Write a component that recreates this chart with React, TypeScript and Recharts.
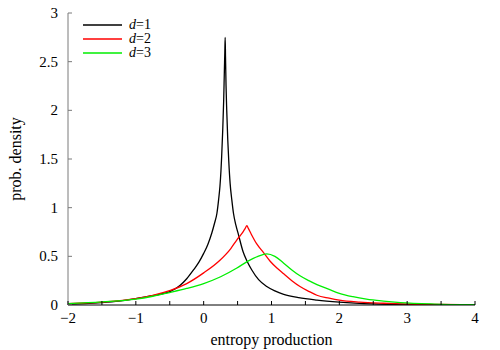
import React from 'react';
import { LineChart, Line, XAxis, YAxis, Legend } from 'recharts';

const d1X = [-2, -1.75, -1.5, -1.25, -1, -0.8, -0.65, -0.49, -0.35, -0.25, -0.15, -0.07, 0, 0.06, 0.12, 0.16, 0.195, 0.22, 0.24, 0.255, 0.265, 0.28, 0.295, 0.305, 0.312, 0.317, 0.322, 0.33, 0.34, 0.355, 0.37, 0.39, 0.415, 0.44, 0.475, 0.51, 0.58, 0.64, 0.71, 0.81, 0.93, 1.05, 1.18, 1.4, 1.67, 2.0, 2.5, 3, 3.5, 4];
const d1Y = [0.01, 0.015, 0.025, 0.04, 0.065, 0.09, 0.11, 0.14, 0.2, 0.27, 0.36, 0.44, 0.53, 0.62, 0.74, 0.84, 0.94, 1.08, 1.22, 1.38, 1.52, 1.78, 2.1, 2.4, 2.6, 2.75, 2.55, 2.25, 2.0, 1.7, 1.48, 1.25, 1.08, 0.94, 0.82, 0.73, 0.55, 0.45, 0.36, 0.26, 0.19, 0.145, 0.11, 0.075, 0.05, 0.03, 0.012, 0.005, 0.002, 0.001];

const d2X = [-2, -1.5, -1, -0.75, -0.49, -0.25, 0, 0.24, 0.4, 0.49, 0.57, 0.61, 0.637, 0.66, 0.7, 0.78, 0.88, 0.98, 1.08, 1.18, 1.3, 1.42, 1.55, 1.67, 1.85, 2.0, 2.3, 2.65, 3, 3.5, 4];
const d2Y = [0.015, 0.03, 0.065, 0.1, 0.15, 0.22, 0.33, 0.46, 0.58, 0.67, 0.74, 0.785, 0.815, 0.785, 0.73, 0.63, 0.54, 0.45, 0.38, 0.32, 0.25, 0.19, 0.14, 0.1, 0.07, 0.05, 0.03, 0.018, 0.01, 0.005, 0.002];

const d3X = [-2, -1.5, -1, -0.75, -0.49, -0.25, 0, 0.25, 0.49, 0.64, 0.8, 0.93, 1.05, 1.18, 1.3, 1.42, 1.55, 1.67, 1.85, 2.0, 2.2, 2.4, 2.65, 2.9, 3.4, 4];
const d3Y = [0.015, 0.033, 0.06, 0.09, 0.13, 0.17, 0.22, 0.29, 0.38, 0.445, 0.5, 0.525, 0.5, 0.43, 0.36, 0.3, 0.25, 0.21, 0.16, 0.12, 0.085, 0.06, 0.04, 0.025, 0.01, 0.003];

const xTicks = [-2, -1.5, -1, -0.5, 0, 0.5, 1, 1.5, 2, 2.5, 3, 3.5, 4];
const yTicks = [0, 0.5, 1, 1.5, 2, 2.5, 3];

const seriesNames = ['1', '2', '3'];
const seriesColors = ['#000000', '#ff0000', '#00ee00'];

const zip = (xs: number[], ys: number[]) => xs.map((x, i) => ({ x, y: ys[i] }));
const seriesData = [zip(d1X, d1Y), zip(d2X, d2Y), zip(d3X, d3Y)];

const FONT = '"Liberation Serif", serif';
const GRAY = '#7a7a7a';

const fmt = (v: number) => String(v).replace('-', '\u2212');

const BottomTick = (props: any) => {
  const { x, y, payload } = props;
  const major = Number.isInteger(payload.value);
  return (
    <g>
      <line x1={x} x2={x} y1={y} y2={y - 4} stroke="#000" strokeWidth={1} />
      {major && (
        <text x={x} y={y + 18} textAnchor="middle" fontSize={15} fontFamily={FONT} fill="#000">
          {fmt(payload.value)}
        </text>
      )}
    </g>
  );
};

const TopTick = (props: any) => {
  const { x, y } = props;
  return <line x1={x} x2={x} y1={y} y2={y + 4} stroke={GRAY} strokeWidth={1} />;
};

const LeftTick = (props: any) => {
  const { x, y, payload } = props;
  return (
    <g>
      <line x1={x} x2={x + 4} y1={y} y2={y} stroke={GRAY} strokeWidth={1} />
      <text x={x - 10} y={y + 5} textAnchor="end" fontSize={15} fontFamily={FONT} fill="#000">
        {fmt(payload.value)}
      </text>
    </g>
  );
};

const RightTick = (props: any) => {
  const { x, y } = props;
  return <line x1={x} x2={x - 4} y1={y} y2={y} stroke={GRAY} strokeWidth={1} />;
};

const YLabel = (props: any) => {
  const { viewBox } = props;
  const cy = viewBox.y + viewBox.height / 2;
  return (
    <text x={15} y={cy} transform={`rotate(-90 15 ${cy})`} textAnchor="middle" dominantBaseline="central" fontSize={16} fontFamily={FONT} fill="#000">
      prob. density
    </text>
  );
};

const LegendBox = () => (
  <div style={{ fontFamily: FONT, fontSize: 14, lineHeight: '14px' }}>
    {seriesNames.map((n, i) => (
      <div key={n} style={{ display: 'flex', alignItems: 'center', height: 14 }}>
        <svg width={39} height={4} style={{ marginRight: 7 }}>
          <line x1={0} x2={39} y1={2} y2={2} stroke={seriesColors[i]} strokeWidth={1.3} />
        </svg>
        <span><i>d</i>=<span>{n}</span></span>
      </div>
    ))}
  </div>
);

export default function App() {
  return (
    <div style={{ position: 'absolute', left: 0, top: 0, width: 500, height: 350, background: '#fff' }}>
      <LineChart width={500} height={350} margin={{ top: 13, right: 25, left: 0, bottom: 0 }}>
        <XAxis
          dataKey="x"
          type="number"
          domain={[-2, 4]}
          ticks={xTicks}
          interval={0}
          height={45}
          tickSize={0}
          tickMargin={0}
          tick={<BottomTick />}
          axisLine={{ stroke: '#000', strokeWidth: 1 }}
          allowDataOverflow
          label={{ value: 'entropy production', position: 'insideBottom', offset: 5, fontSize: 16, fontFamily: FONT, fill: '#000' }}
        />
        <XAxis
          xAxisId="top"
          orientation="top"
          dataKey="x"
          type="number"
          domain={[-2, 4]}
          ticks={xTicks}
          interval={0}
          height={0}
          tickSize={0}
          tickMargin={0}
          tick={<TopTick />}
          axisLine={{ stroke: GRAY, strokeWidth: 1 }}
          allowDataOverflow
        />
        <YAxis
          type="number"
          domain={[0, 3]}
          ticks={yTicks}
          interval={0}
          width={68}
          tickSize={0}
          tickMargin={0}
          tick={<LeftTick />}
          axisLine={{ stroke: GRAY, strokeWidth: 1 }}
          allowDataOverflow
          label={<YLabel />}
        />
        <YAxis
          yAxisId="right"
          orientation="right"
          type="number"
          domain={[0, 3]}
          ticks={yTicks}
          interval={0}
          width={0}
          tickSize={0}
          tickMargin={0}
          tick={<RightTick />}
          axisLine={{ stroke: GRAY, strokeWidth: 1 }}
          allowDataOverflow
        />
        <Legend
          layout="vertical"
          verticalAlign="middle"
          align="center"
          content={<LegendBox />}
          wrapperStyle={{ position: 'absolute', left: 83, top: 18, width: 120 }}
        />
        {seriesData.map((data, i) => (
          <Line
            key={seriesNames[i]}
            data={data}
            dataKey="y"
            name={`d=${seriesNames[i]}`}
            type="monotone"
            stroke={seriesColors[i]}
            strokeWidth={1.3}
            dot={false}
            isAnimationActive={false}
          />
        ))}
      </LineChart>
    </div>
  );
}
